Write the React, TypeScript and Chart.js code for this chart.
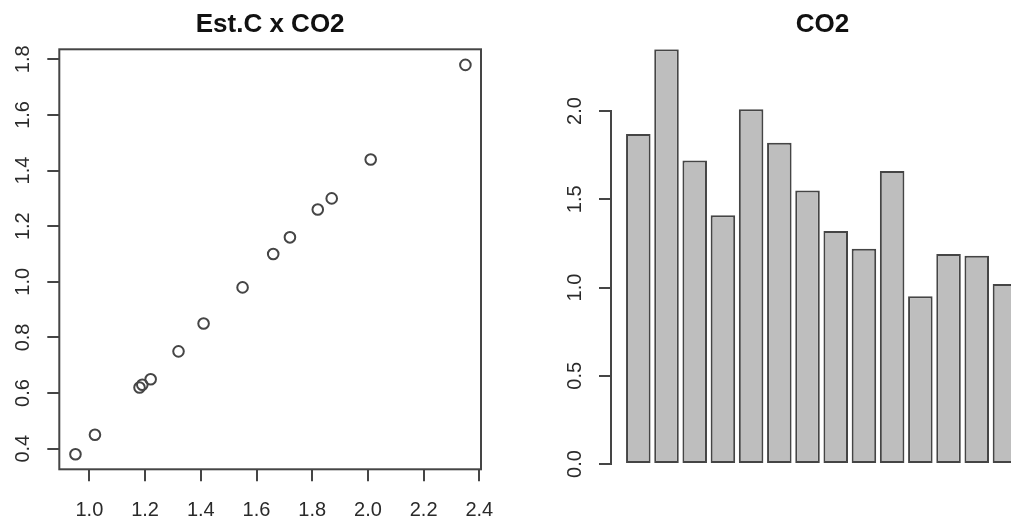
import { useEffect, useRef } from 'react';
import { Chart, registerables } from 'chart.js';

Chart.register(...registerables);

// ---- data ----
const barIds = [1, 2, 3, 4, 5, 6, 7, 8, 9, 10, 11, 12, 13, 14];
const co2 = [1.87, 2.35, 1.72, 1.41, 2.01, 1.82, 1.55, 1.32, 1.22, 1.66, 0.95, 1.19, 1.18, 1.02];
const estC = [1.30, 1.78, 1.16, 0.85, 1.44, 1.26, 0.98, 0.75, 0.65, 1.10, 0.38, 0.63, 0.62, 0.45];
const scatterTitle = 'Est.C x CO2';
const barTitle = 'CO2';
const scatterXRange = [0.892, 2.406];
const scatterYRange = [0.326, 1.836];
const barXRange = [0.032, 15.03];
const barYRange = [-0.03, 2.35];
const scatterStep = 0.2;
const barStep = 0.5;

// ---- style ----
const FONT = "'Liberation Sans', Arial, sans-serif";
const AXIS = '#454545';
const TEXT = '#2a2a2a';
const TITLE = '#111111';
const BAR_FILL = '#bebebe';

const fmt = (v: any) => Number(v).toFixed(1);

const boxPlugin = {
  id: 'rbox',
  beforeDatasetsDraw(chart: any) {
    const { ctx, chartArea: a } = chart;
    ctx.save();
    ctx.strokeStyle = AXIS;
    ctx.lineWidth = 2;
    ctx.strokeRect(a.left, a.top, a.right - a.left, a.bottom - a.top);
    ctx.restore();
  },
};

const yAxisLinePlugin = {
  id: 'ryaxis',
  afterDraw(chart: any) {
    const s = chart.scales.y;
    const t = s.ticks;
    if (!t.length) return;
    const { ctx } = chart;
    ctx.save();
    ctx.strokeStyle = AXIS;
    ctx.lineWidth = 2;
    ctx.beginPath();
    ctx.moveTo(s.right, s.getPixelForValue(t[0].value) + 1);
    ctx.lineTo(s.right, s.getPixelForValue(t[t.length - 1].value) - 1);
    ctx.stroke();
    ctx.restore();
  },
};

const titleOpts = (text: string) => ({
  display: true,
  text,
  fullSize: false,
  color: TITLE,
  font: { family: FONT, size: 26, weight: 'bold' as const, lineHeight: 1.2 },
  padding: { top: 9, bottom: 9.1 },
});

const gridOpts = {
  drawOnChartArea: false,
  drawTicks: true,
  tickLength: 12,
  color: AXIS,
  lineWidth: 2,
};

const yTicks = (step: number) => ({
  stepSize: step,
  includeBounds: false,
  minRotation: 90,
  maxRotation: 90,
  crossAlign: 'center' as const,
  padding: 10,
  color: TEXT,
  font: { family: FONT, size: 20 },
  callback: fmt,
});

export default function App() {
  const leftRef = useRef<HTMLCanvasElement>(null);
  const rightRef = useRef<HTMLCanvasElement>(null);

  useEffect(() => {
    const left = new Chart(leftRef.current as HTMLCanvasElement, {
      type: 'scatter',
      data: {
        datasets: [
          {
            data: co2.map((x, i) => ({ x, y: estC[i] })),
            pointRadius: 5.3,
            pointHoverRadius: 5.3,
            borderWidth: 2,
            borderColor: AXIS,
            backgroundColor: 'rgba(0,0,0,0)',
          },
        ],
      },
      options: {
        responsive: false,
        animation: false,
        devicePixelRatio: 1,
        layout: { padding: { left: 0, right: 39, top: 0, bottom: 0 } },
        plugins: {
          legend: { display: false },
          tooltip: { enabled: false },
          title: titleOpts(scatterTitle),
        },
        scales: {
          x: {
            type: 'linear',
            position: 'bottom',
            min: scatterXRange[0],
            max: scatterXRange[1],
            border: { display: false },
            grid: gridOpts,
            ticks: {
              stepSize: scatterStep,
              includeBounds: false,
              maxRotation: 0,
              autoSkip: false,
              padding: 17,
              color: TEXT,
              font: { family: FONT, size: 20 },
              callback: fmt,
            },
            afterFit: (s: any) => {
              s.height = 52.7;
            },
          },
          y: {
            type: 'linear',
            position: 'left',
            min: scatterYRange[0],
            max: scatterYRange[1],
            border: { display: false },
            grid: gridOpts,
            ticks: yTicks(scatterStep),
            afterFit: (s: any) => {
              s.width = 59.3;
            },
          },
        },
      },
      plugins: [boxPlugin],
    } as any);

    const right = new Chart(rightRef.current as HTMLCanvasElement, {
      type: 'bar',
      data: {
        datasets: [
          {
            data: barIds.map((x, i) => ({ x, y: co2[i] })),
            backgroundColor: BAR_FILL,
            borderColor: AXIS,
            borderWidth: 2,
            borderSkipped: false,
            barPercentage: 0.87,
            categoryPercentage: 1,
          },
        ],
      },
      options: {
        responsive: false,
        animation: false,
        devicePixelRatio: 1,
        layout: { padding: { left: 0, right: 0, top: 0, bottom: 52.7 } },
        plugins: {
          legend: { display: false },
          tooltip: { enabled: false },
          title: titleOpts(barTitle),
        },
        scales: {
          x: {
            type: 'linear',
            display: false,
            offset: false,
            min: barXRange[0],
            max: barXRange[1],
          },
          y: {
            type: 'linear',
            position: 'left',
            min: barYRange[0],
            max: barYRange[1],
            border: { display: false },
            grid: gridOpts,
            ticks: yTicks(barStep),
            afterFit: (s: any) => {
              s.width = 91;
            },
          },
        },
      },
      plugins: [yAxisLinePlugin],
    } as any);

    return () => {
      left.destroy();
      right.destroy();
    };
  }, []);

  return (
    <div
      style={{
        position: 'fixed',
        left: 0,
        top: 0,
        width: 1011,
        height: 522,
        overflow: 'hidden',
        background: '#ffffff',
      }}
    >
      <canvas
        ref={leftRef}
        width={520}
        height={522}
        style={{ position: 'absolute', left: 0, top: 0, width: 520, height: 522 }}
      />
      <canvas
        ref={rightRef}
        width={514}
        height={522}
        style={{ position: 'absolute', left: 520, top: 0, width: 514, height: 522 }}
      />
    </div>
  );
}
